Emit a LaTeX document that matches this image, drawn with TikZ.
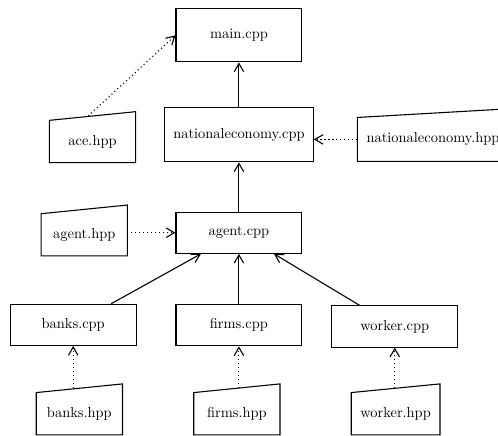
\documentclass[tikz,border=0pt]{standalone}
\usepackage{tikz}
\usetikzlibrary{arrows.meta}

\begin{document}
\begin{tikzpicture}[>={Straight Barb[length=2mm,width=2.3mm]},line width=0.75pt,
  cppfile/.style={draw,minimum width=3.06cm,minimum height=1cm,inner xsep=6pt},
  hppfile/.style={minimum width=2.07cm,minimum height=1cm,inner xsep=6pt},
  dep/.style={->,dotted}]
  \useasboundingbox (0,0) rectangle (12.11,10.6);
  \node[cppfile,minimum height=1.29cm] (main) at (5.81,9.74) {main.cpp};
  \node[cppfile,minimum height=1.31cm] (ncpp) at (5.81,7.32) {nationaleconomy.cpp};
  \node[cppfile] (agent) at (5.81,4.94) {agent.cpp};
  \node[cppfile] (banks) at (1.78,2.70) {banks.cpp};
  \node[cppfile] (firms) at (5.81,2.69) {firms.cpp};
  \node[cppfile] (worker) at (9.60,2.66) {worker.cpp};
  \node[hppfile] (ace) at (2.25,7.16) {ace.hpp};
  \node[hppfile,minimum height=1.04cm] (nhpp) at (10.53,7.21) {nationaleconomy.hpp};
  \node[hppfile] (agenthpp) at (2.05,4.89) {agent.hpp};
  \node[hppfile] (bhpp) at (1.93,0.54) {banks.hpp};
  \node[hppfile] (fhpp) at (5.76,0.54) {firms.hpp};
  \node[hppfile] (whpp) at (9.62,0.54) {worker.hpp};
  \foreach \h in {ace,nhpp,agenthpp,bhpp,fhpp,whpp}
    \draw (\h.south west) -- (\h.south east) -- ([yshift=6pt]\h.north east) -- (\h.north west) -- cycle;
  \draw[->] (ncpp) -- (main);
  \draw[->] (agent) -- (ncpp);
  \foreach \c in {banks,firms,worker}
    \draw[->] (\c) -- (agent);
  \draw[dep] ([xshift=-3pt,yshift=3pt]ace.north) -- (main.west);
  \draw[dep] (nhpp.west) -- (nhpp.west -| ncpp.east);
  \draw[dep] (agenthpp.east |- agent.west) -- (agent.west);
  \foreach \h/\c in {bhpp/banks,fhpp/firms,whpp/worker}
    \draw[dep] (\h.north -| \c.south) ++(0,3pt) -- (\c.south);
\end{tikzpicture}
\end{document}
